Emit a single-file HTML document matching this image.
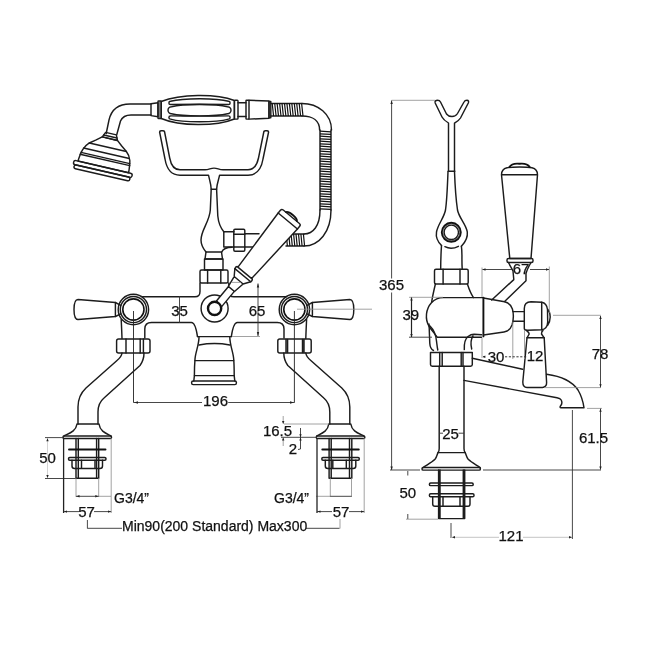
<!DOCTYPE html>
<html><head><meta charset="utf-8"><style>
html,body{margin:0;padding:0;background:#fff;}
svg{display:block;}
text{-webkit-font-smoothing:antialiased;}
.m{fill:none;stroke:#1c1c1c;stroke-width:1.45;stroke-linejoin:round;stroke-linecap:round;}
.w{fill:#fff;stroke:none;}
.k{fill:none;stroke:#111;stroke-width:1.9;stroke-linecap:round;}
.k2{fill:none;stroke:#222;stroke-width:1.3;}
.t{fill:none;stroke:#333;stroke-width:0.7;}
.th{fill:none;stroke:#111;stroke-width:1.2;}
.e{fill:none;stroke:#8a8a8a;stroke-width:0.8;}
.dl{fill:none;stroke:#333;stroke-width:0.9;}
.dd{fill:none;stroke:#333;stroke-width:1;stroke-dasharray:2.2 1.6;}
.ar{fill:#222;stroke:none;}
.cl{fill:none;stroke:#222;stroke-width:0.9;}
text{font-family:"Liberation Sans",sans-serif;fill:#111;stroke:#111;stroke-width:0.25;}
</style></head><body>
<svg style="will-change:transform" width="650" height="650" viewBox="0 0 650 650">
<rect width="650" height="650" fill="#fff"/>
<g transform="translate(111,133.6) rotate(13)"><path class="m" d="M-5.5 0L5.5 0L7.8 5.2L-7.8 5.2Z"/><path class="m" d="M-6.8 3L6.8 3"/><path class="m" d="M-7.8 5.2L-13 9.5L-19 14C-21.5 16.5 -23 19 -24 22C-25 25 -25.6 29 -26 34.2L26 34.2C25.6 29 25.2 25 24.4 22C23.4 18.5 21.5 16 19 14L13 9.5L7.8 5.2Z"/><path class="m" d="M-19 14L19 14M-23.5 20.2L23.5 20.2M-25 25L25 25M-25.5 27L25.5 27"/><rect class="m" x="-30" y="34.2" width="60" height="4.2" rx="2"/><rect class="m" x="-28.6" y="38.4" width="57.2" height="3.8" rx="1.8"/></g><path class="m" d="M151 104L130 104C119 104 111.5 109 109 120L106.2 133.5"/><path class="m" d="M151 115L131 115C126 115 122.5 116.5 120.5 121L116.8 134.5"/><path class="m" d="M151 103.8L158 102.8L158 116.8L151 115.6Z"/><rect class="m" x="158" y="101" width="3.2" height="17.5" rx="0.6"/><path class="t" d="M159.6 101L159.6 118.5"/><path class="m" d="M161.2 101.5C180 94 216 93.5 234.4 100.5L234.4 119C216 126.5 180 126.5 161.2 118.5Z"/><path class="m" d="M171.5 106.7C183 103.8 216 103.8 227.5 106.7A3.5 3.5 0 0 1 227.5 113.7C216 116.6 183 116.6 171.5 113.7A3.5 3.5 0 0 1 171.5 106.7Z"/><path class="m" d="M170.5 101.3C183 98 216 97.8 228.5 101.3A1.6 1.6 0 0 1 228.5 104.5C216 104.3 183 104.3 170.5 104.5A1.6 1.6 0 0 1 170.5 101.3Z"/><path class="m" d="M170.5 115.9C183 116.1 216 116.1 228.5 115.9A1.6 1.6 0 0 1 228.5 119.1C216 122.6 183 122.6 170.5 119.1A1.6 1.6 0 0 1 170.5 115.9Z"/><rect class="m" x="234.4" y="100.3" width="3.6" height="18.8" rx="0.8"/><path class="m" d="M238 102.8L246 102.8M238 116.4L246 116.4"/><rect class="m" x="246" y="100.3" width="3" height="18.8" rx="0.5"/><path class="m" d="M249 100.3L269 101L269 118.3L249 119.1"/><rect class="m" x="269" y="101.5" width="1.8" height="16.3"/><path class="m" d="M270.8 103.4L302 103.4M270.8 116L302 116"/><path class="th" d="M272.2 103.4L273.6 116.0M274.7 103.4L276.1 116.0M277.1 103.4L278.5 116.0M279.6 103.4L281.0 116.0M282.0 103.4L283.4 116.0M284.5 103.4L285.9 116.0M286.9 103.4L288.3 116.0M289.4 103.4L290.8 116.0M291.8 103.4L293.2 116.0M294.3 103.4L295.7 116.0M296.7 103.4L298.1 116.0M299.2 103.4L300.6 116.0M301.6 103.4L303.0 116.0"/><path class="m" d="M302 103.4C318 103.4 331.5 114 331.5 130M302 116C313 116 319.6 121 319.6 130"/><path class="m" d="M320 130L320 210M331 130L331 210"/><path class="th" d="M320.0 131.2L331.0 131.9M320.0 133.8L331.0 134.4M320.0 136.2L331.0 136.9M320.0 138.8L331.0 139.4M320.0 141.2L331.0 141.9M320.0 143.8L331.0 144.4M320.0 146.2L331.0 146.9M320.0 148.8L331.0 149.4M320.0 151.2L331.0 151.9M320.0 153.8L331.0 154.4M320.0 156.2L331.0 156.9M320.0 158.8L331.0 159.4M320.0 161.2L331.0 161.9M320.0 163.8L331.0 164.4M320.0 166.2L331.0 166.9M320.0 168.8L331.0 169.4M320.0 171.2L331.0 171.9M320.0 173.8L331.0 174.4M320.0 176.2L331.0 176.9M320.0 178.8L331.0 179.4M320.0 181.2L331.0 181.9M320.0 183.8L331.0 184.4M320.0 186.2L331.0 186.9M320.0 188.8L331.0 189.4M320.0 191.2L331.0 191.9M320.0 193.8L331.0 194.4M320.0 196.2L331.0 196.9M320.0 198.8L331.0 199.4M320.0 201.2L331.0 201.9M320.0 203.8L331.0 204.4M320.0 206.2L331.0 206.9M320.0 208.8L331.0 209.4"/><path class="m" d="M331 210C331 232 319 246 304 246M320 210C320 226 313 234 304 234"/><path class="m" d="M286 234L304 234M286 246L304 246"/><path class="th" d="M286.2 234.0L287.4 246.0M288.7 234.0L289.9 246.0M291.1 234.0L292.3 246.0M293.6 234.0L294.8 246.0M296.0 234.0L297.2 246.0M298.5 234.0L299.7 246.0M300.9 234.0L302.1 246.0M303.4 234.0L304.6 246.0"/><path class="m" d="M159.6 132L165 159C166.5 168 171 175.2 180 175.2L208.5 175.2C209.5 180 211 184 211.2 189.2L216.6 189.2C216.8 184 218.6 180 219.6 175.2L248 175.2C257 175.2 261.5 168 263 159L268.6 132Q268.6 130.8 267.1 130.8L265.3 130.8Q263.8 130.8 263.8 132L258.5 158C257 165 254 169.8 248 169.8L223 169.8C219 169.8 217.5 168.1 214 168.1C210.5 168.1 209 169.8 205 169.8L180 169.8C174 169.8 171 165 169.7 158L164.6 132Q164.6 130.8 163.1 130.8L161.1 130.8Q159.6 130.8 159.6 132Z"/><path class="m" d="M211.2 189.2L210.3 210C209.5 222 201 230 201 240C201 246 203.5 249 206 252"/><path class="m" d="M216.6 189.2L217.8 216C218.5 223 221.5 229 223.8 231.7"/><path class="m" d="M232 247.3C226.5 247.3 223 249 221.6 252.3"/><path class="m" d="M223.8 231.7L234 231.7M223.8 247L234 247M223.8 231.7L223.8 247"/><rect class="m" x="233.8" y="229.3" width="11" height="22" rx="1.2"/><path class="m" d="M233.8 234.3L244.8 234.3M233.8 247L244.8 247"/><path class="m" d="M244.8 233.8L259 233.8M244.8 247L255.5 247"/><path class="m" d="M206 252L221.5 252L222.5 259L205 259Z"/><rect class="m" x="204.5" y="259" width="18.5" height="11"/><rect class="m" x="200" y="270" width="28" height="13" rx="1.5"/><path class="m" d="M207.6 270L207.6 283M220.8 270L220.8 283"/><path class="m" d="M200 283L200 291.5Q200 296.8 195 296.8L142.5 296.8 M144.8 338L144.8 329Q144.8 322.5 151.5 322.5L191.5 322.5C195 322.5 196.5 330 197.5 336.6"/><path class="m" transform="matrix(-1 0 0 1 428.8 0)" d="M200 283L200 291.5Q200 296.8 195 296.8L142.5 296.8 M144.8 338L144.8 329Q144.8 322.5 151.5 322.5L191.5 322.5C195 322.5 196.5 330 197.5 336.6"/><path class="m" d="M197.5 336.6L231.3 336.6M199 337C199 345 195.5 352 195 359C194.5 365 194.4 370 194.4 375.6L193.8 381M229.8 337C229.8 345 233.2 352 233.7 359C234.2 365 234.2 370 234.2 375.6L234.8 381"/><path class="m" d="M199 345C210 343 219 343 229.8 345M195 360.6L233.7 360.6M194.4 375.6L234.2 375.6"/><rect class="m" x="191.6" y="381" width="44.8" height="3.6" rx="1.6"/><circle class="m" cx="133.4" cy="309.5" r="15.2"/><circle class="m" cx="133.4" cy="309.5" r="13.1"/><circle class="k" cx="133.4" cy="309.5" r="10.6" style="stroke-width:1.6"/><path class="m" d="M115.4 302.5L78 299.5C74.5 299.5 74 305 74 309.5C74 314 74.5 319.5 78 319.5L115.4 316.5Z"/><path class="m" d="M115.4 302.5L120.8 305.3M115.4 316.5L120.8 313.8"/><path class="m" d="M121.2 319.5C121.5 326 121.8 332 122 338.5"/><rect class="m" x="116.6" y="339" width="33.4" height="14" rx="2"/><path class="m" d="M122 353Q121.5 357 117 360.5L86 388Q78 395.5 78 407L78 424"/><path class="m" d="M144 353Q144 360 140 365.5L104 398Q98 403 98 412L98 424"/><path class="m" d="M78 424L98 424M77 424C76 431 70 433 64 436M99 424C100 431 105 433 111 436"/><rect class="m" x="63" y="436" width="48.5" height="2.4" rx="1"/><path class="m" d="M76 438.4L76 478M78.3 438.4L78.3 478M96.6 438.4L96.6 478M98.7 438.4L98.7 478M76 478.3L98.7 478.3"/><path class="k" d="M69 449.5L105.5 449.5"/><rect class="m" x="68.5" y="457.5" width="37.5" height="2.7" rx="1.2"/><path class="m" d="M72 460.2L72 466C72 467.5 73 468.5 74.5 468.5L100 468.5C101.5 468.5 102.5 467.5 102.5 466L102.5 460.2M81.5 460.2L81.5 468.5M95 460.2L95 468.5"/><g transform="matrix(-1 0 0 1 427.8 0)"><circle class="m" cx="133.4" cy="309.5" r="15.2"/><circle class="m" cx="133.4" cy="309.5" r="13.1"/><circle class="k" cx="133.4" cy="309.5" r="10.6" style="stroke-width:1.6"/><path class="m" d="M115.4 302.5L78 299.5C74.5 299.5 74 305 74 309.5C74 314 74.5 319.5 78 319.5L115.4 316.5Z"/><path class="m" d="M115.4 302.5L120.8 305.3M115.4 316.5L120.8 313.8"/><path class="m" d="M121.2 319.5C121.5 326 121.8 332 122 338.5"/><rect class="m" x="116.6" y="339" width="33.4" height="14" rx="2"/><path class="m" d="M122 353Q121.5 357 117 360.5L86 388Q78 395.5 78 407L78 424"/><path class="m" d="M144 353Q144 360 140 365.5L104 398Q98 403 98 412L98 424"/><path class="m" d="M78 424L98 424M77 424C76 431 70 433 64 436M99 424C100 431 105 433 111 436"/><rect class="m" x="63" y="436" width="48.5" height="2.4" rx="1"/><path class="m" d="M76 438.4L76 478M78.3 438.4L78.3 478M96.6 438.4L96.6 478M98.7 438.4L98.7 478M76 478.3L98.7 478.3"/><path class="k" d="M69 449.5L105.5 449.5"/><rect class="m" x="68.5" y="457.5" width="37.5" height="2.7" rx="1.2"/><path class="m" d="M72 460.2L72 466C72 467.5 73 468.5 74.5 468.5L100 468.5C101.5 468.5 102.5 467.5 102.5 466L102.5 460.2M81.5 460.2L81.5 468.5M95 460.2L95 468.5"/></g><path class="m" d="M126 339L126 353M140.2 339L140.2 353M143.4 339L143.4 353M286 339.5L286 352.5M287.6 339.5L287.6 352.5M302.5 339.5L302.5 352.5M304 339.5L304 352.5"/><circle class="m" cx="214.6" cy="308.4" r="13.5"/><circle cx="214.6" cy="308.4" r="6.6" fill="none" stroke="#111" stroke-width="2.4"/><g transform="translate(215,308.7) rotate(-50.3)"><path class="w" d="M8 -3.8L25.7 -3.8L37 -5.8L43.5 -10.3L46.8 -10L46.8 -8.9L114 -12.5L114 12.5L46.8 8.9L46.8 10L43.5 10.3L37 5.8L25.7 3.8L8 3.8Z"/><path class="m" d="M6.5 -3.8L25.7 -3.8M6.5 3.8L25.7 3.8M25.7 -4L25.7 4M25.7 -4L37 -5.8M25.7 4L37 5.8M37 -5.8L37 5.8M37 -5.8L43.5 -10.3M37 5.8L43.5 10.3"/><path class="m" d="M43.5 -10.3L43.5 10.3M43.5 -10.3Q45.8 -10.9 46.6 -9.8L46.6 9.8Q45.8 10.9 43.5 10.3M46.6 -8.9L114 -12.5M46.6 8.9L114 12.5"/><path class="m" d="M114 -12.5L117.5 -12.5Q119.5 -12.5 119.5 -10.5L119.5 10.5Q119.5 12.5 117.5 12.5L114 12.5Z"/><path class="k" d="M119.8 -7C121.5 -6 121.8 -3 121.8 0C121.8 3 121.5 6 119.8 7"/><path class="t" d="M119.8 -4L121.2 -4M119.8 0L121.6 0M119.8 4L121.2 4"/></g><path class="m" d="M448.5 171L448.5 123C446 121.5 443.5 120 442 117L435.2 103C434.5 101 436 100.3 437.5 100.3C439 100.3 440 101 440.5 102L446.5 114C448 116 450 116.5 452 116.5C454 116.5 456 116 457.5 113.5L464 102C464.5 101 465.5 100.3 467 100.3C468.5 100.3 469 101.5 468.3 103L460.5 118C459 120.5 457 121.5 454.5 123L454.5 171"/><path class="m" d="M448.3 171.2L454.8 171.2"/><path class="m" d="M448 171.5C447.5 185 447 200 445.5 210C444 218 438 224 436.5 232C435.5 238 438 242 441.5 245.5"/><path class="m" d="M454.5 171.5C455 185 456 200 457.5 210C459 218 466 224 467.3 232C468 238 464.5 243 461.4 246.3"/><circle class="k" cx="451.3" cy="232.3" r="9.5"/><circle class="t" cx="451.3" cy="232.3" r="8.5"/><circle class="m" cx="451.3" cy="232.3" r="7.2"/><path class="m" d="M444.9 246.7Q451.3 250 458.4 246.3"/><path class="m" d="M441.5 245.5C441 253 440.7 262 440.7 269M461.4 246.3C462.5 253 461.5 258 462.2 269"/><rect class="m" x="434.5" y="269.3" width="33.7" height="14.7" rx="1.5"/><path class="m" d="M443.1 269.3L443.1 284M460 269.3L460 284"/><path class="m" d="M435.4 284C434 290 432.5 296 431.7 302M467.4 284C469 289 471 294 473.5 297.6"/><path class="m" d="M482.8 297.6L443.4 297.6C433 297.6 427.5 306 426.5 314C426 319 427 323 429.2 326.5C431.5 330 434.5 333.5 437.2 337.2L481.5 337.2"/><path class="k" d="M483.4 297.6L483.4 336.4"/><path class="m" d="M429 324C429.5 332 429.5 338 429.8 343.5C430 347 431.5 349.5 433.5 350.5M430 326C434 330 436 335 436.5 341C437 345 437.3 348 437.8 350"/><path class="m" d="M464.3 349.6C464 344 465 339 468 336.5C470 335 472 334.3 474 334.3L481.5 334.8M471.7 349C470.5 344 471 339 473 336"/><path class="m" d="M483.4 298L504.6 301.8C508 302.5 511 305 512.4 309C513.5 313 513.5 320 512 325C510.5 329 508 331.5 504 332L483.4 335"/><path class="m" d="M513 311.6L524.3 311.6M513 321.3L524.3 321.3"/><path class="m" d="M524.3 328.5L524.3 308.5C524.3 304 527 301.7 531 301.7L541.7 302.3L541.7 329.8L527.5 330.2C525.5 330.2 524.3 329.5 524.3 328.5Z"/><path class="m" d="M541.7 302.3C545 302.8 547 305.5 547.5 309.5L547.7 322C547.5 326.5 545 329.3 541.7 329.8M547.5 309C549.3 311 550.2 314 550.2 317C550.2 320 549.3 323 547.5 325.5"/><path class="m" d="M526.3 330.5C527.5 331.5 529 332 529.2 334L527 337.8L544.2 337.8L541.5 334C541.5 332 542 331 543 330.5"/><path class="m" d="M527 337.8L522.8 382C522.8 385.5 524.5 387.4 527 387.4L542.5 387.4C545 387.4 546.8 385.5 546.6 382.5L544.2 337.8"/><path class="m" d="M501.5 174.8C501.5 170.5 504 168.5 507 167.8C512 166.8 527 166.8 532 167.8C535 168.5 537.5 170.5 537.5 174.8L531 258.5L509.8 258.5Z"/><path class="m" d="M502 174.8L537 174.8"/><path class="k" d="M509.4 167C511 164.5 515 163.3 519.5 163.8C524 163.3 528 164.5 529.7 167"/><rect class="m" x="507" y="258.5" width="26" height="4" rx="1.5"/><path class="m" d="M508.5 262.5C510 266 512 268.5 513 271L513.8 279.6L491.7 300M531 262.5C529 266 527 269.5 526 273.5L526 280.8L504.6 301.5"/><path class="m" d="M430.5 352.5L472.3 352.5L472.3 364.5C472.3 365.5 471.5 366.2 470.5 366.2L432.3 366.2C431.3 366.2 430.5 365.5 430.5 364.5Z"/><path class="m" d="M439.7 352.5L439.7 366.2M442.2 352.5L442.2 366.2M461.2 352.5L461.2 366.2M463 352.5L463 366.2"/><path class="m" d="M439.2 366.2L439.2 448.5Q439.2 451.5 438 452.6M464 366.2L464 448.5Q464 451.5 465.2 452.6M438 452.6L465.2 452.6"/><path class="m" d="M472.3 358.2L522.6 369.2M546.6 374.2C560 376 572 381 578 390C581 395 583 401 584 407.8L561 407.8C560 407.8 559.8 407 560.5 406C561.8 404.5 562.2 402 561.2 400C560.4 398.6 559 398.2 557 397.8L464 380.4"/><path class="m" d="M438 452.6C437 454.5 436.8 457 435 459.3C431.5 462.5 427 464.8 423 467.6M465.2 452.6C466.2 454.5 466.4 457 468.2 459.3C471.7 462.5 476.2 464.8 480.2 467.6"/><rect class="m" x="422" y="467.5" width="58.4" height="2.6" rx="1.2"/><path class="m" d="M438.6 470L438.6 518.5M440 470L440 518.5M463.3 470L463.3 518.5M464.7 470L464.7 518.5M438.6 518.6L464.7 518.6"/><rect class="m" x="429.4" y="483" width="43.8" height="2.6" rx="1.2"/><rect class="m" x="429.4" y="493.8" width="44.6" height="3" rx="1.3"/><path class="m" d="M432.7 496.8L432.7 504C432.7 505.5 433.7 506.3 435 506.3L468 506.3C469.3 506.3 470 505.5 470 504L470 496.8M443 496.8L443 506.3M460 496.8L460 506.3"/>
<path class="dl" d="M179.5 296L179.5 323"/><path class="dl" d="M258 283.5L258 336"/><path class="ar" d="M258.0 283.5L259.2 287.5L256.8 287.5Z"/><path class="ar" d="M258.0 336.0L256.8 332.0L259.2 332.0Z"/><path class="e" d="M232 336.5L260 336.5M231 282.4L241 282.4"/><path class="cl" d="M133.5 311L133.5 402.5M294.4 311L294.4 402.5"/><path class="dl" d="M133.4 402.5L202 402.5M228.2 402.5L294.6 402.5"/><path class="ar" d="M134.0 402.5L138.0 401.3L138.0 403.7Z"/><path class="ar" d="M294.0 402.5L290.0 403.7L290.0 401.3Z"/><path class="e" d="M297 309.2L372 309.2"/><path class="e" d="M283.2 416L283.2 423.5M283.2 438L283.2 446M284 424L329 424"/><path class="dl" d="M281 437.3L317 437.3M300.5 428L300.5 439M300.5 439L300.5 449L298 449.5"/><path class="ar" d="M283.2 424.0L282.0 421.0L284.4 421.0Z"/><path class="ar" d="M283.2 437.5L284.4 440.5L282.0 440.5Z"/><path class="ar" d="M300.5 437.3L299.3 434.3L301.7 434.3Z"/><path class="ar" d="M300.5 437.5L301.7 440.5L299.3 440.5Z"/><path class="dl" d="M45 437.6L64 437.6M45 478.5L76 478.5"/><path class="e" d="M47.5 438L47.5 478" style="stroke:#c8c8c8"/><path class="ar" d="M47.5 438.2L48.7 441.2L46.3 441.2Z"/><path class="ar" d="M47.5 478.0L46.3 475.0L48.7 475.0Z"/><path class="e" d="M76 478L76 497M98.7 478L98.7 497M98.7 496.3L111 496.3"/><path class="dl" d="M76 496.3L98.7 496.3"/><path class="ar" d="M76.5 496.3L79.5 495.1L79.5 497.5Z"/><path class="ar" d="M98.3 496.3L95.3 497.5L95.3 495.1Z"/><path class="k2" d="M63.6 438L63.6 513"/><path class="e" d="M111.2 438L111.2 513"/><path class="dl" d="M63.6 511.6L79 511.6M94 511.6L111.2 511.6"/><path class="ar" d="M64.0 511.6L67.0 510.4L67.0 512.8Z"/><path class="ar" d="M111.0 511.6L108.0 512.8L108.0 510.4Z"/><path class="e" d="M330.3 478L330.3 497M351.5 478L351.5 497M316 496.3L330.3 496.3"/><path class="dl" d="M330.3 496.3L351.5 496.3"/><path class="k2" d="M317 438L317 513"/><path class="e" d="M364.2 438L364.2 513"/><path class="dl" d="M317 511.6L332 511.6M349 511.6L364.2 511.6"/><path class="ar" d="M317.5 511.6L320.5 510.4L320.5 512.8Z"/><path class="ar" d="M364.0 511.6L361.0 512.8L361.0 510.4Z"/><path class="dl" d="M87.4 520L87.4 528.5M87.4 528.3L122 528.3M306 528.3L339.5 528.3"/><path class="e" d="M340 519L340 528.5"/><path class="e" d="M391.6 100.3L435 100.3"/><path class="dl" d="M391.6 100.5L391.6 278.5M391.6 292.5L391.6 470"/><path class="ar" d="M391.6 100.5L392.8 104.0L390.4 104.0Z"/><path class="ar" d="M391.6 470.0L390.4 466.5L392.8 466.5Z"/><path class="dl" d="M390 470L420 470"/><path class="dl" d="M483 470L601 470"/><path class="e" d="M409 297.3L443 297.3"/><path class="dl" d="M409 337.2L432 337.2"/><path class="dl" d="M411.5 297.5L411.5 337" style="stroke-width:1.2;stroke:#222"/><path class="ar" d="M411.5 297.6L412.7 300.6L410.3 300.6Z"/><path class="ar" d="M411.5 337.0L410.3 334.0L412.7 334.0Z"/><path class="e" d="M482 267.5L482 297M549.3 266.5L549.3 313"/><path class="dl" d="M482.5 269.5L512 269.5M530 269.5L549 269.5"/><path class="ar" d="M482.5 269.5L485.5 268.3L485.5 270.7Z"/><path class="ar" d="M549.0 269.5L546.0 270.7L546.0 268.3Z"/><path class="e" d="M482 338L482 358M512.8 321.5L512.8 359M524.5 330L524.5 359"/><path class="dd" d="M483 356.8L486 356.8M505 356.8L527 356.8"/><path class="ar" d="M482.8 356.8L485.3 355.6L485.3 358.0Z"/><path class="e" d="M553 315.3L601 315.3M544 387.6L601 387.6"/><path class="dl" d="M600.5 316L600.5 387.3"/><path class="ar" d="M600.5 316.0L601.7 319.0L599.3 319.0Z"/><path class="ar" d="M600.5 387.3L599.3 384.3L601.7 384.3Z"/><path class="e" d="M587 408.4L602 408.4"/><path class="dl" d="M600.5 408.6L600.5 469.6"/><path class="ar" d="M600.5 408.8L601.7 411.8L599.3 411.8Z"/><path class="ar" d="M600.5 469.5L599.3 466.5L601.7 466.5Z"/><path class="dl" d="M572.4 410L572.4 539"/><path class="dl" d="M451 523L451 538"/><path class="e" d="M451 537.3L499 537.3M523 537.3L572 537.3" style="stroke:#b5b5b5"/><path class="ar" d="M452.0 537.3L455.0 536.1L455.0 538.5Z"/><path class="ar" d="M572.0 537.3L569.0 538.5L569.0 536.1Z"/><path class="dl" d="M407.8 471L407.8 475.5M407.8 514L407.8 519"/><path class="e" d="M406 519.2L438 519.2"/><path class="dl" d="M439.2 433.2L443 433.2M458.5 433.2L464 433.2"/>
<text x="179.5" y="315.5" font-size="15" text-anchor="middle">35</text><text x="257" y="315.5" font-size="15" text-anchor="middle">65</text><text x="215.5" y="406.0" font-size="15" text-anchor="middle">196</text><text x="277.5" y="435.7" font-size="15" text-anchor="middle">16.5</text><text x="293" y="453.7" font-size="15" text-anchor="middle">2</text><text x="47.5" y="462.7" font-size="15" text-anchor="middle">50</text><text x="114" y="502.7" font-size="14" text-anchor="start">G3/4”</text><text x="274" y="502.7" font-size="14" text-anchor="start">G3/4”</text><text x="86.5" y="516.7" font-size="15" text-anchor="middle">57</text><text x="341" y="516.7" font-size="15" text-anchor="middle">57</text><text x="122" y="530.8" font-size="14" text-anchor="start">Min90(200 Standard) Max300</text><text x="391.5" y="290.2" font-size="15" text-anchor="middle">365</text><text x="410.8" y="320.2" font-size="15" text-anchor="middle">39</text><text x="521" y="274.2" font-size="15" text-anchor="middle">67</text><text x="496" y="361.7" font-size="15" text-anchor="middle">30</text><text x="535" y="361.2" font-size="15" text-anchor="middle">12</text><text x="600" y="358.7" font-size="15" text-anchor="middle">78</text><text x="450.5" y="439.2" font-size="15" text-anchor="middle">25</text><text x="593.5" y="443.2" font-size="15" text-anchor="middle">61.5</text><text x="407.8" y="497.8" font-size="15" text-anchor="middle">50</text><text x="511" y="541.2" font-size="15" text-anchor="middle">121</text>
</svg>
</body></html>
